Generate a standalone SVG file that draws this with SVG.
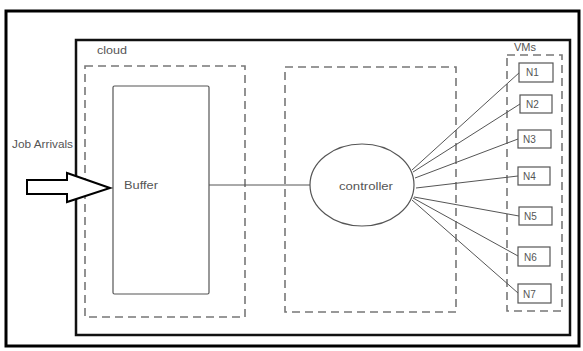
<svg xmlns="http://www.w3.org/2000/svg" width="583" height="351" viewBox="0 0 583 351">
<style>
.lbl{font-family:"Liberation Sans",Arial,sans-serif;font-size:11px;fill:#555}
.nl{font-size:10px}
.dash{fill:none;stroke:#777;stroke-width:1.6;stroke-dasharray:8,5}
.box{fill:#fff;stroke:#555;stroke-width:1.2}
.conn{stroke:#555;stroke-width:1;fill:none}
</style>
<rect width="583" height="351" fill="#fff"/>
<rect id="outer" x="6" y="11" width="573" height="335" fill="none" stroke="#000" stroke-width="3"/>
<g id="cloud">
<rect x="76" y="40" width="494" height="295" fill="none" stroke="#111" stroke-width="2.5"/>
<text class="lbl" x="97" y="54" textLength="30" lengthAdjust="spacingAndGlyphs">cloud</text>
</g>
<g id="buffer-region"><rect class="dash" x="85" y="66" width="160" height="251"/></g>
<g id="controller-region"><rect class="dash" x="285" y="67" width="171" height="245"/></g>
<g id="vms">
<rect class="dash" x="507" y="55" width="55" height="256"/>
<text class="lbl" x="514" y="51" font-size="9">VMs</text>
</g>
<g id="connectors">
<line class="conn" x1="209" y1="185" x2="310" y2="185"/>
<line class="conn" x1="412" y1="170" x2="520" y2="72"/>
<line class="conn" x1="413" y1="172" x2="520" y2="104"/>
<line class="conn" x1="415" y1="178" x2="518" y2="139"/>
<line class="conn" x1="416" y1="188" x2="518" y2="176"/>
<line class="conn" x1="414" y1="197" x2="519" y2="216"/>
<line class="conn" x1="413" y1="198" x2="518" y2="256"/>
<line class="conn" x1="412" y1="200" x2="518" y2="293"/>
</g>
<g id="buffer">
<rect class="box" x="113" y="86" width="96" height="208" rx="1.5"/>
<text class="lbl" x="124" y="189" textLength="34" lengthAdjust="spacingAndGlyphs">Buffer</text>
</g>
<g id="controller">
<ellipse class="box" cx="362" cy="185" rx="52" ry="41"/>
<text class="lbl" x="339" y="190" textLength="54" lengthAdjust="spacingAndGlyphs">controller</text>
</g>
<g id="job-arrivals">
<text class="lbl" x="12" y="148" textLength="61" lengthAdjust="spacingAndGlyphs">Job Arrivals</text>
<polygon points="27,180 67,180 67,173 110,188 67,202 67,194 27,194" fill="#fff" stroke="#000" stroke-width="2" stroke-linejoin="miter"/>
</g>
<g id="N1"><rect class="box" x="519" y="63" width="34" height="19"/><text class="lbl nl" x="526" y="76">N1</text></g>
<g id="N2"><rect class="box" x="520" y="95" width="32" height="18"/><text class="lbl nl" x="526" y="108">N2</text></g>
<g id="N3"><rect class="box" x="518" y="130" width="33" height="18"/><text class="lbl nl" x="523" y="143">N3</text></g>
<g id="N4"><rect class="box" x="518" y="167" width="32" height="18"/><text class="lbl nl" x="523" y="180">N4</text></g>
<g id="N5"><rect class="box" x="519" y="207" width="33" height="18"/><text class="lbl nl" x="524" y="220">N5</text></g>
<g id="N6"><rect class="box" x="518" y="247" width="32" height="19"/><text class="lbl nl" x="524" y="261">N6</text></g>
<g id="N7"><rect class="box" x="518" y="284" width="33" height="19"/><text class="lbl nl" x="523" y="298">N7</text></g>
</svg>
